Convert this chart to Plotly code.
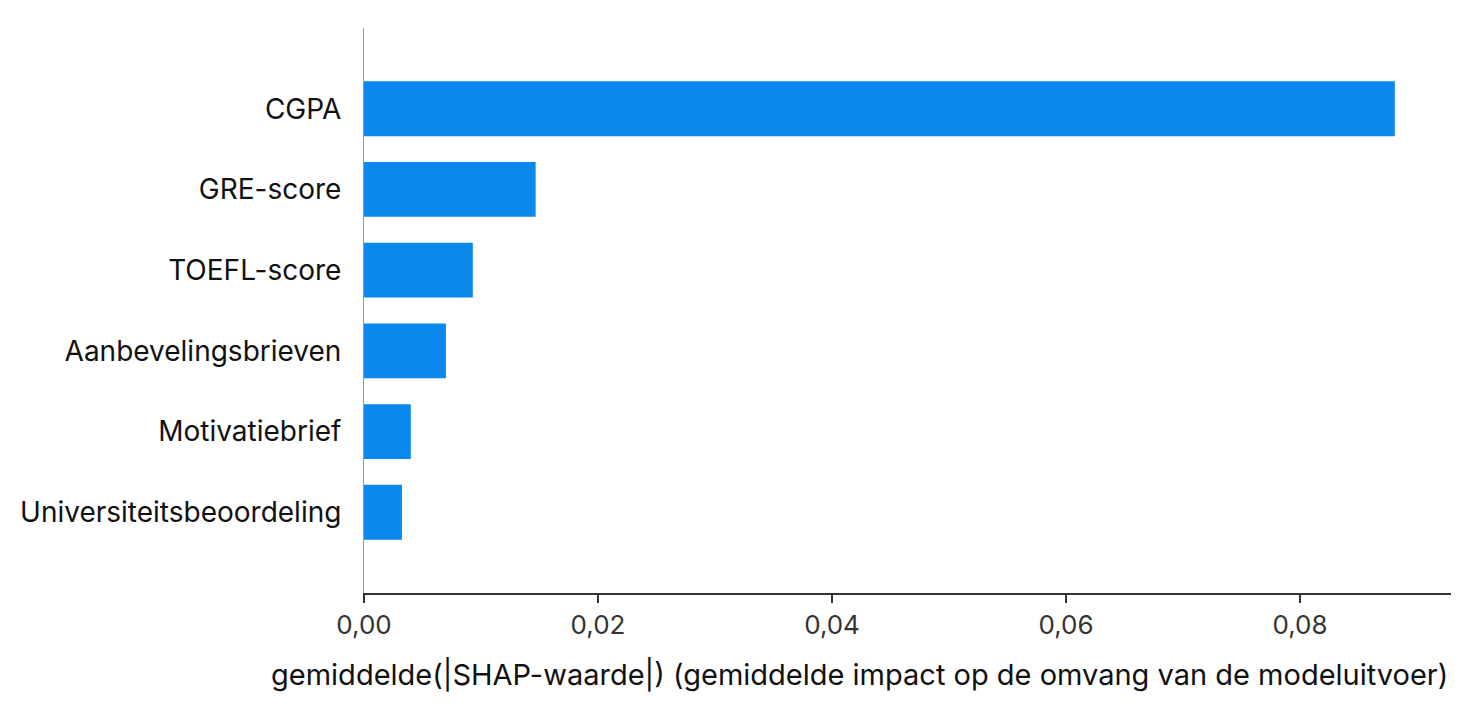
import plotly.graph_objects as go

# mean |SHAP| per feature (bottom to top)
features = ["Universiteitsbeoordeling", "Motivatiebrief", "Aanbevelingsbrieven",
            "TOEFL-score", "GRE-score", "CGPA"]
mean_shap = [0.00324, 0.0040, 0.0070, 0.0093, 0.01467, 0.0881]
tick_vals = [0.00, 0.02, 0.04, 0.06, 0.08]
x_title = "gemiddelde(|SHAP-waarde|) (gemiddelde impact op de omvang van de modeluitvoer)"

font_family = "Inter, Open Sans, sans-serif"

fig = go.Figure()
fig.add_trace(
    go.Bar(
        x=mean_shap,
        y=list(range(len(features))),
        orientation="h",
        width=0.68,
        marker=dict(color="#0A88EE", line=dict(width=0)),
    )
)

# page body has an 8px margin, so shift the plot area back a bit
fig.update_layout(
    width=1477,
    height=720,
    margin=dict(l=353, r=34, t=20, b=135),
    plot_bgcolor="white",
    paper_bgcolor="white",
    separators=",.",
    showlegend=False,
    font=dict(family=font_family, size=26, color="#111111"),
    xaxis=dict(
        range=[0, 0.0929],
        tickvals=tick_vals,
        tickformat=".2f",
        showgrid=False,
        zeroline=False,
        showline=True,
        linecolor="#333333",
        linewidth=2,
        ticks="outside",
        ticklen=8,
        tickwidth=1.5,
        tickcolor="#333333",
        tickfont=dict(size=26, color="#333333"),
    ),
    yaxis=dict(
        range=[-1, 6],
        tickvals=list(range(len(features))),
        ticktext=features,
        showgrid=False,
        zeroline=False,
        showline=True,
        linecolor="#999999",
        linewidth=1,
        ticks="",
        ticklabelstandoff=16,
        tickfont=dict(size=28, color="#111111"),
    ),
)

# axis label sits left of the plot centre in the original, so place it by hand
fig.add_annotation(
    text=x_title,
    xref="paper", yref="paper",
    x=0.456, y=-0.145,
    xanchor="center", yanchor="middle",
    showarrow=False,
    font=dict(size=29, color="#111111"),
)

fig.write_html("out.html")
